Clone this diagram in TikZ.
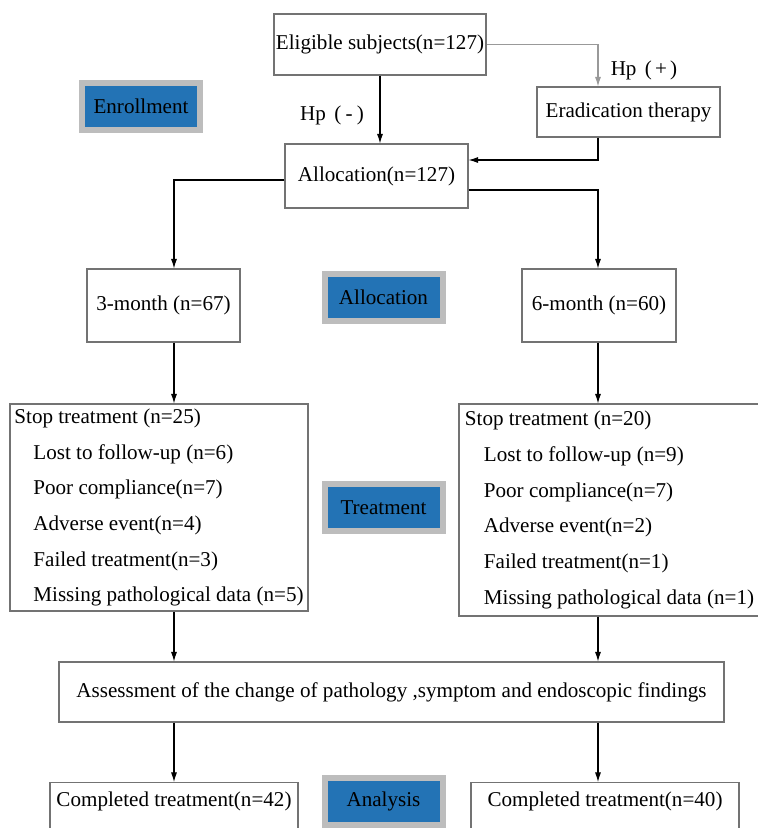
\documentclass[tikz,border=0pt]{standalone}
\usepackage{fontspec}
\setmainfont{Liberation Serif}
\usetikzlibrary{arrows.meta}
\definecolor{stageblue}{HTML}{2373B5}
\definecolor{stagegray}{HTML}{BDBDBD}
\tikzset{
  box/.style={draw=black!55, line width=0.6pt, fill=white, inner sep=0pt, font=\fontsize{12}{14}\selectfont},
  listbox/.style={box, align=left, font=\fontsize{12}{20.3}\selectfont},
  cutbox/.style={box, anchor=north, text height=0.48cm, text depth=1cm},
  stagebox/.style={draw=stagegray, line width=0.12cm, fill=stageblue, minimum width=2.36cm, minimum height=0.94cm, font=\fontsize{12}{14}\selectfont},
  link/.style={-{Latex[length=5.5pt,width=3.5pt]}, line width=0.6pt}
}
\begin{document}
\begin{tikzpicture}
    \useasboundingbox (0,0) rectangle (15.16,-16.56);
    \clip (0,0) rectangle (15.16,-16.56);
    \coordinate (lx) at (3.48,0); % left column
    \coordinate (rx) at (11.96,0); % right column

    % Enrollment
    \node[box, minimum width=4.24cm, minimum height=1.22cm] (elig) at (7.6,-0.89) {Eligible subjects(n=127)};
    \node[box, minimum width=3.66cm, minimum height=1cm] (erad) at (12.57,-2.24) {Eradication therapy};
    \node[box, minimum width=3.66cm, minimum height=1.28cm] (alloc) at (7.53,-3.52) {Allocation(n=127)};
    \node[font=\fontsize{12}{14}\selectfont] (hpneg) at (6.64,-2.3) {Hp\hspace{0.4em}(\hspace{0.2em}-\hspace{0.2em})};
    \node[font=\fontsize{12}{14}\selectfont] (hppos) at (12.88,-1.4) {Hp\hspace{0.4em}(\hspace{0.15em}+\hspace{0.15em})};

    % Groups
    \node[box, minimum width=3.06cm, minimum height=1.46cm] (m3) at (3.27,-6.11) {3-month (n=67)};
    \node[box, minimum width=3.08cm, minimum height=1.46cm] (m6) at (11.98,-6.11) {6-month (n=60)};

    % Treatment
    \node[listbox, minimum width=5.96cm, minimum height=4.14cm] (stopL) at (3.18,-10.15) {Stop treatment (n=25)\\
      \hspace*{0.38cm}Lost to follow-up (n=6)\\
      \hspace*{0.38cm}Poor compliance(n=7)\\
      \hspace*{0.38cm}Adverse event(n=4)\\
      \hspace*{0.38cm}Failed treatment(n=3)\\
      \hspace*{0.38cm}Missing pathological data (n=5)};
    \node[listbox, minimum width=6.02cm, minimum height=4.24cm] (stopR) at (12.19,-10.2) {Stop treatment (n=20)\\
      \hspace*{0.38cm}Lost to follow-up (n=9)\\
      \hspace*{0.38cm}Poor compliance(n=7)\\
      \hspace*{0.38cm}Adverse event(n=2)\\
      \hspace*{0.38cm}Failed treatment(n=1)\\
      \hspace*{0.38cm}Missing pathological data (n=1)};

    % Analysis
    \node[box, minimum width=13.3cm, minimum height=1.2cm] (assess) at (7.83,-13.84) {Assessment of the change of pathology ,symptom and endoscopic findings};
    \node[cutbox, minimum width=4.96cm] (doneL) at (3.48,-15.64) {Completed treatment(n=42)};
    \node[cutbox, minimum width=5.36cm] (doneR) at (12.1,-15.64) {Completed treatment(n=40)};

    % Stage labels
    \foreach \name/\txt/\x/\y in {enrol/Enrollment/2.82/-2.13, stalloc/Allocation/7.67/-5.94,
        sttreat/Treatment/7.67/-10.15, stanal/Analysis/7.67/-16.02} {
        \node[stagebox] (\name) at (\x,\y) {\txt};
      }

    % Connectors
    \draw[link, draw=black!40] (elig.east) -| (rx |- erad.north);
    \draw[link] (elig.south) -- (elig.south |- alloc.north);
    \draw[link] (rx |- erad.south) |- ([yshift=0.32cm]alloc.east);
    \draw[link] ([yshift=-0.08cm]alloc.west) -| (lx |- m3.north);
    \draw[link] ([yshift=-0.28cm]alloc.east) -| (rx |- m6.north);
    \draw[link] (lx |- m3.south) -- (lx |- stopL.north);
    \draw[link] (rx |- m6.south) -- (rx |- stopR.north);
    \draw[link] (lx |- stopL.south) -- (lx |- assess.north);
    \draw[link] (rx |- stopR.south) -- (rx |- assess.north);
    \draw[link] (lx |- assess.south) -- (lx |- doneL.north);
    \draw[link] (rx |- assess.south) -- (rx |- doneR.north);
  \end{tikzpicture}
\end{document}
